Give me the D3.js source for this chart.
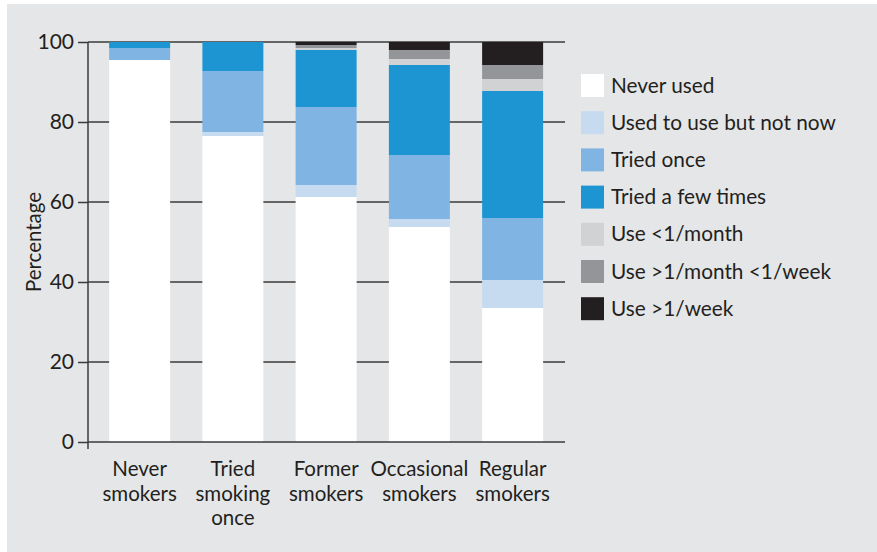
<!DOCTYPE html>
<html lang="en">
<head>
<meta charset="utf-8">
<style>
  body { margin: 0; background: #fff; }
  text { font-family: Lato, "Noto Sans", sans-serif; fill: #231f20; }
  .axis line, .axis path { stroke: #3a3a3a; stroke-width: 1.5px; }
  .grid line { stroke: #3a3a3a; stroke-width: 1.5px; }
</style>
<script src="https://d3js.org/d3.v7.min.js"></script>
</head>
<body>
<svg width="877" height="552"></svg>
<script>
var categories = [["Never", "smokers"], ["Tried", "smoking", "once"], ["Former", "smokers"], ["Occasional", "smokers"], ["Regular", "smokers"]];
var seriesNames = ["Never used", "Used to use but not now", "Tried once", "Tried a few times", "Use <1/month", "Use >1/month <1/week", "Use >1/week"];
var colors = ["#ffffff", "#c6dbf0", "#80b4e2", "#1e95d3", "#d1d2d4", "#949598", "#231f20"];

// one array per category, in series order
var neverSmokers = [95.5, 0, 3, 1.5, 0, 0, 0];
var triedOnce = [76.5, 1, 15.25, 7.25, 0, 0, 0];
var formerSmokers = [61.25, 3, 19.5, 14.25, 0.5, 0.75, 0.75];
var occasionalSmokers = [53.75, 2, 16, 22.5, 1.5, 2.25, 2];
var regularSmokers = [33.5, 7, 15.5, 31.75, 3, 3.5, 5.75];
var yTicks = [0, 20, 40, 60, 80, 100];

var rows = [neverSmokers, triedOnce, formerSmokers, occasionalSmokers, regularSmokers];
var table = rows.map(function(r, i) {
  var o = { key: i };
  seriesNames.forEach(function(s, j) { o[s] = r[j]; });
  return o;
});

var svg = d3.select("svg");
svg.append("rect").attr("x", 7).attr("y", 4).attr("width", 870).attr("height", 548).attr("fill", "#e5e6e8");

var x = d3.scaleBand().domain(d3.range(categories.length)).range([93, 559.25])
    .paddingInner(0.346).paddingOuter(0.173);
var y = d3.scaleLinear().domain([0, 100]).range([442, 42]);

// gridlines behind bars
svg.append("g").attr("class", "grid")
  .selectAll("line").data(yTicks.slice(1)).enter().append("line")
    .attr("x1", 88).attr("x2", 565)
    .attr("y1", function(d) { return y(d); })
    .attr("y2", function(d) { return y(d); });

var stack = d3.stack().keys(seriesNames)(table);

svg.append("g").selectAll("g").data(stack).enter().append("g")
    .attr("fill", function(d, i) { return colors[i]; })
  .selectAll("rect").data(function(d) { return d; }).enter().append("rect")
    .attr("x", function(d) { return x(d.data.key); })
    .attr("width", x.bandwidth())
    .attr("y", function(d) { return y(d[1]); })
    .attr("height", function(d) { return y(d[0]) - y(d[1]); });

// y axis
var yAxis = svg.append("g").attr("class", "axis").attr("transform", "translate(88,0)")
  .call(d3.axisLeft(y).tickValues(yTicks).tickSize(10).tickPadding(4));
yAxis.select(".domain").remove();
yAxis.append("line").attr("x1", 0).attr("x2", 0).attr("y1", 42).attr("y2", 449);
yAxis.selectAll("text").style("font-size", "21px").style("font-family", "Lato, sans-serif").attr("fill", "#231f20");

// x axis line
svg.append("line").attr("class", "xline")
  .attr("x1", 88).attr("x2", 565).attr("y1", 442).attr("y2", 442)
  .attr("stroke", "#3a3a3a").attr("stroke-width", 1.5);

// x labels
svg.append("g").selectAll("text").data(categories).enter().append("text")
    .attr("text-anchor", "middle")
    .attr("x", function(d, i) { return x(i) + x.bandwidth() / 2; })
    .attr("y", 476)
    .style("font-size", "20.5px")
  .selectAll("tspan").data(function(d) { return d; }).enter().append("tspan")
    .attr("x", function() { return d3.select(this.parentNode).attr("x"); })
    .attr("dy", function(d, i) { return i === 0 ? 0 : 24.5; })
    .text(function(d) { return d; });

// y title
svg.append("text")
  .attr("transform", "translate(41,242) rotate(-90)")
  .attr("text-anchor", "middle")
  .style("font-size", "20.5px")
  .text("Percentage");

// legend
var legend = svg.append("g").selectAll("g").data(seriesNames).enter().append("g")
  .attr("transform", function(d, i) { return "translate(581," + (74 + i * 37.2) + ")"; });
legend.append("rect").attr("width", 23).attr("height", 23)
  .attr("fill", function(d, i) { return colors[i]; });
legend.append("text").attr("x", 30).attr("y", 18.5)
  .style("font-size", "20.8px")
  .text(function(d) { return d; });
</script>
</body>
</html>
